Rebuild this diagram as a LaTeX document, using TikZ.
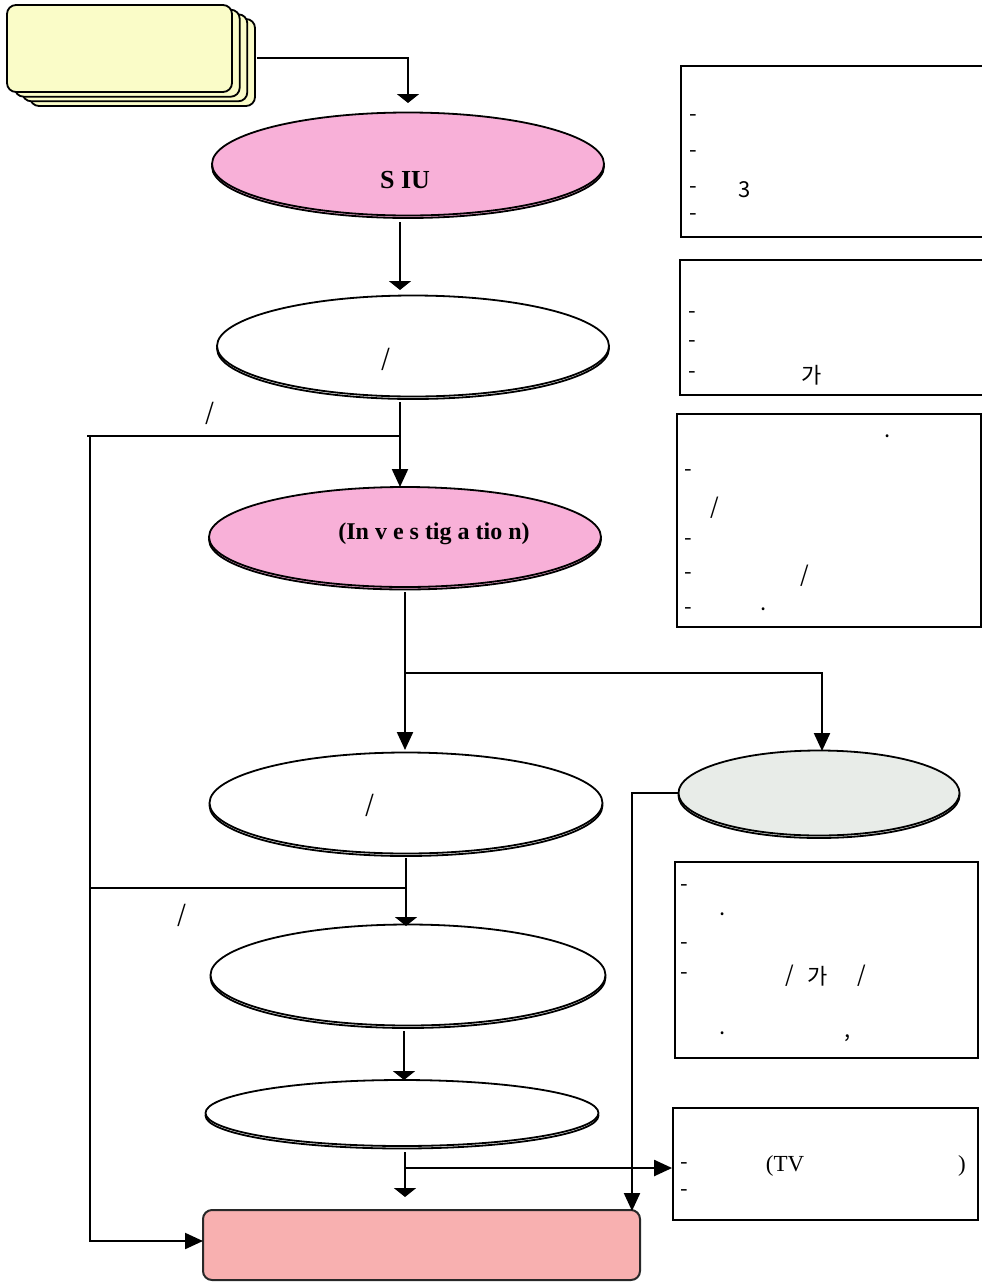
\documentclass[tikz,border=0pt]{standalone}
\usepackage{fontspec}
\setmainfont{Liberation Serif}
\newfontfamily\kr{Noto Sans CJK KR}
\usetikzlibrary{arrows.meta,shapes.geometric,shadows}
\definecolor{srcyellow}{RGB}{250,252,200}
\definecolor{nodepink}{RGB}{248,176,216}
\definecolor{nodegray}{RGB}{232,236,232}
\definecolor{endpink}{RGB}{248,176,176}
\tikzset{
  oval/.style={ellipse, draw=black, line width=1.8pt, inner sep=0pt,
    copy shadow={shadow xshift=0pt, shadow yshift=-2.5pt}},
  stackbox/.style={rectangle, rounded corners=9pt, draw=black, line width=1.8pt, fill=srcyellow,
    copy shadow={shadow xshift=23pt, shadow yshift=-14pt},
    copy shadow={shadow xshift=15.3pt, shadow yshift=-9.3pt},
    copy shadow={shadow xshift=7.7pt, shadow yshift=-4.7pt}},
  endbox/.style={rectangle, rounded corners=9pt, draw={rgb,255:red,40;green,40;blue,40}, line width=2pt, fill=endpink},
  conn/.style={line width=2.2pt, draw=black},
  flat/.style={conn, -{Triangle[width=22pt,length=9pt]}},
  tall/.style={conn, -{Triangle[width=16pt,length=18pt]}},
  infobox/.style={line width=1.8pt, draw=black},
  txt/.style={font=\kr\fontsize{22}{26}\selectfont, inner sep=0pt},
  sl/.style={font=\kr\fontsize{23}{26}\selectfont, inner sep=0pt},
  bold/.style={font=\bfseries\fontsize{26}{30}\selectfont, inner sep=0pt},
  boldi/.style={font=\bfseries\fontsize{24}{28}\selectfont, inner sep=0pt},
  serif/.style={font=\fontsize{23}{26}\selectfont, inner sep=0pt}
}
\begin{document}
\begin{tikzpicture}[x=1pt,y=-1pt]
\useasboundingbox (0,0) rectangle (982,1283);

% source stack
\node[stackbox, minimum width=225pt, minimum height=87pt] (src) at (119.5,48.5) {};

% ellipses
\node[oval, fill=nodepink, minimum width=392pt, minimum height=103pt] (siu) at (408,164) {};
\node[bold] (siut) at (405,180) {S IU};
\node[oval, fill=white, minimum width=392pt, minimum height=101pt] (e2) at (413,346) {};
\node[sl] (e2t) at (386,359) {/};
\node[oval, fill=nodepink, minimum width=392pt, minimum height=100pt] (inv) at (405,537) {};
\node[boldi] (invt) at (434,534) {(In v e s tig a tio n)};
\node[oval, fill=white, minimum width=393pt, minimum height=101pt] (e4) at (406,803) {};
\node[sl] (e4t) at (370,805) {/};
\node[oval, fill=nodegray, minimum width=281pt, minimum height=85pt] (gry) at (819,793) {};
\node[oval, fill=white, minimum width=395pt, minimum height=101pt] (e5) at (408,975) {};
\node[oval, fill=white, minimum width=393pt, minimum height=66pt] (e6) at (402,1113) {};
\node[endbox, minimum width=437pt, minimum height=70pt] (fin) at (421.5,1245) {};

% side labels
\node[sl] (l1) at (210,413) {/};
\node[sl] (l2) at (182,915) {/};

% coordinates for connector ends
\coordinate (c1a) at (257,58);
\coordinate (c1b) at (408,103);
\coordinate (c2a) at (400,222);
\coordinate (c2b) at (400,290);
\coordinate (c3a) at (400,402);
\coordinate (c3b) at (400,487);
\coordinate (c3j) at (400,436);
\coordinate (c4a) at (405,592);
\coordinate (c4b) at (405,750);
\coordinate (c5j) at (405,673);
\coordinate (c5b) at (822,751);
\coordinate (c6a) at (679,793);
\coordinate (c6b) at (632,1211);
\coordinate (c7a) at (406,858);
\coordinate (c7b) at (406,926);
\coordinate (c7j) at (406,888);
\coordinate (c7l) at (90,888);
\coordinate (c8a) at (404,1031);
\coordinate (c8b) at (404,1080);
\coordinate (c9a) at (405,1152);
\coordinate (c9b) at (405,1197);
\coordinate (c9j) at (405,1168);
\coordinate (lft) at (90,1241);
\coordinate (finl) at (203,1241);

% connectors
\draw[flat] (c1a) -| (c1b);
\draw[flat] (c2a) -- (c2b);
\draw[tall] (c3a) -- (c3b);
\draw[conn] (c3j) -- (87,436);
\draw[tall] (90,436) -- (lft) -- (finl);
\draw[tall] (c4a) -- (c4b);
\draw[tall] (c5j) -| (c5b);
\draw[tall] (c6a) -| (c6b);
\draw[flat] (c7a) -- (c7b);
\draw[conn] (c7j) -- (c7l);
\draw[flat] (c8a) -- (c8b);
\draw[flat] (c9a) -- (c9b);

% info boxes
\draw[infobox] (983,66) -- (681,66) -- (681,237) -- (983,237);
\draw[infobox] (983,260) -- (680,260) -- (680,395) -- (983,395);
\draw[infobox] (677,414) rectangle (981,627);
\draw[infobox] (675,862) rectangle (978,1058);
\node[infobox, rectangle, inner sep=0pt, minimum width=305pt, minimum height=112pt] (boxe) at (825.5,1164) {};
\draw[tall] (c9j) -- (boxe.west |- c9j);

% box A
\node[txt] (a1) at (693,118) {-};
\node[txt] (a2) at (693,154) {-};
\node[txt] (a3) at (693,190) {-};
\node[txt] (a3b) at (745,190) {3};
\node[txt] (a4) at (693,217) {-};
% box B
\node[txt] (b1) at (692,315) {-};
\node[txt] (b2) at (692,344) {-};
\node[txt] (b3) at (692,375) {-};
\node[txt] (b3b) at (812,375) {가};
% box C
\node[txt] (cc0) at (888,436) {.};
\node[txt] (cc1) at (688,473) {-};
\node[txt] (cc2) at (715,508) {/};
\node[txt] (cc3) at (688,542) {-};
\node[txt] (cc4) at (688,576) {-};
\node[txt] (cc4b) at (805,576) {/};
\node[txt] (cc5) at (688,611) {-};
\node[txt] (cc5b) at (764,609) {.};
% box D
\node[txt] (d1) at (684,888) {-};
\node[txt] (d1b) at (723,914) {.};
\node[txt] (d2) at (684,946) {-};
\node[txt] (d3) at (684,976) {-};
\node[txt] (d3b) at (790,976) {/};
\node[txt] (d3c) at (818,976) {가};
\node[txt] (d3d) at (862,976) {/};
\node[txt] (d4) at (723,1033) {.};
\node[txt] (d4b) at (848,1038) {,};
% box E
\node[txt] (e1) at (684,1166) {-};
\node[serif] (e1b) at (785,1166) {(TV};
\node[serif] (e1c) at (962,1166) {)};
\node[txt] (e2b) at (684,1193) {-};
\end{tikzpicture}
\end{document}
